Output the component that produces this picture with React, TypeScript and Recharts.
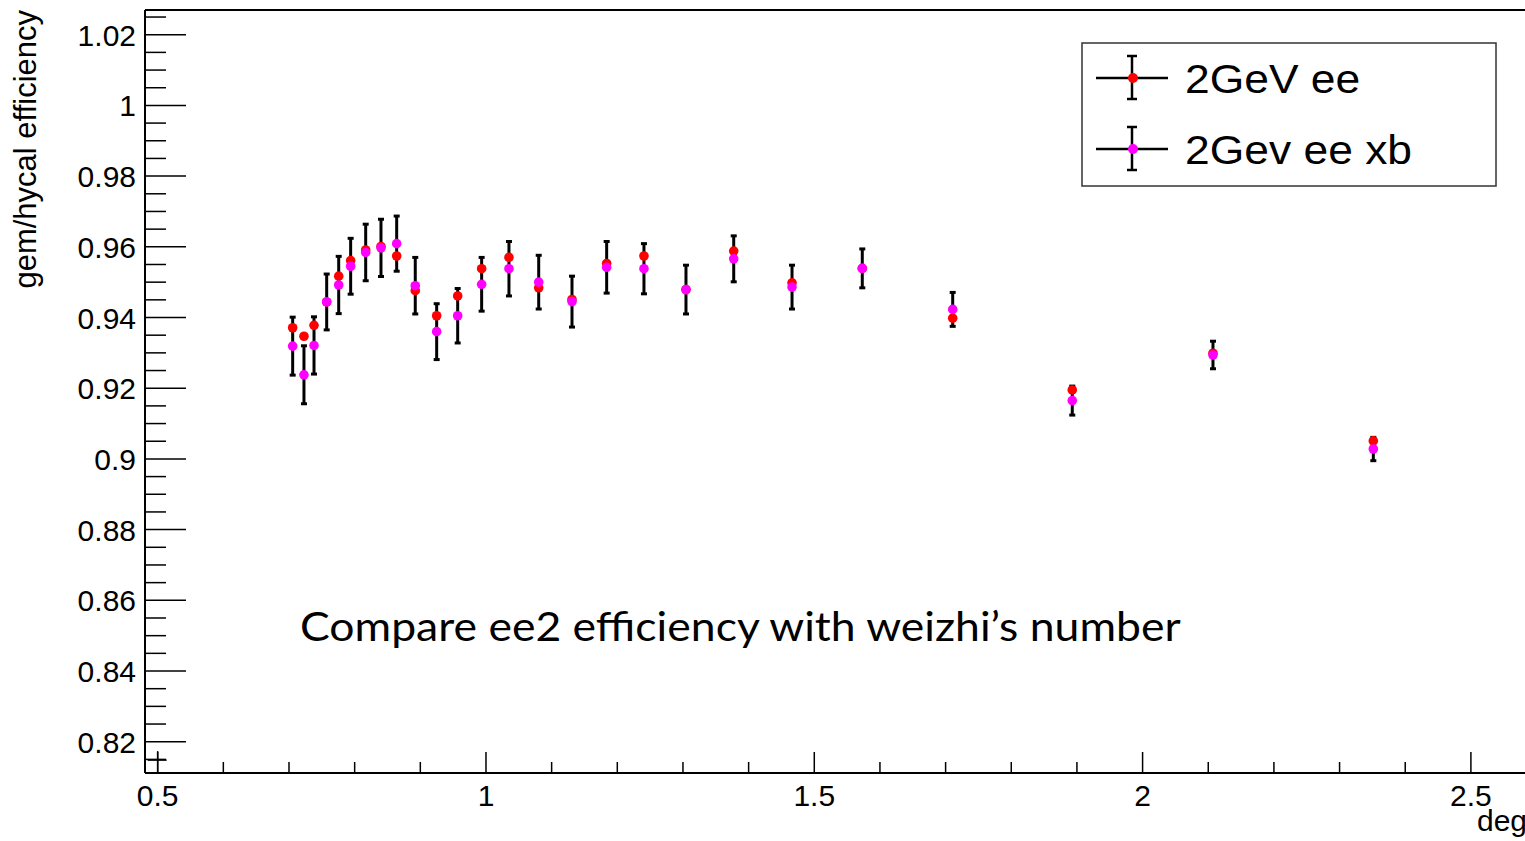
import { ScatterChart, Scatter, XAxis, YAxis, ErrorBar, ReferenceLine } from "recharts";

// opening angle (deg) of each bin
const angles = [
  0.7056, 0.7228, 0.7381, 0.7574, 0.7757, 0.7939, 0.8168, 0.8401, 0.864, 0.8923, 0.9249, 0.9569, 0.9934,
  1.035, 1.0803, 1.131, 1.1838, 1.2406, 1.3046, 1.3773, 1.4661, 1.5731, 1.7108, 1.8929, 2.1072, 2.3514,
];

// 2GeV ee
const eeEff = [
  0.9371, 0.9347, 0.9378, 0.9444, 0.9517, 0.9561, 0.9591, 0.9601, 0.9574, 0.9476, 0.9405, 0.9461, 0.9538,
  0.957, 0.9484, 0.9451, 0.9553, 0.9574, 0.9479, 0.9588, 0.9498, 0.9539, 0.9398, 0.9195, 0.9299, 0.9051,
];

// 2Gev ee xb (weizhi)
const xbEff = [
  0.9319, 0.9238, 0.9321, 0.9444, 0.9492, 0.9545, 0.9584, 0.9597, 0.9609, 0.949, 0.936, 0.9405, 0.9494,
  0.9538, 0.95, 0.9445, 0.9542, 0.9538, 0.9479, 0.9566, 0.9486, 0.9539, 0.9423, 0.9165, 0.9294, 0.9028,
];

const xbErr = [
  0.0082, 0.0082, 0.0081, 0.0079, 0.0081, 0.0079, 0.008, 0.0081, 0.0078, 0.008, 0.0079, 0.0077, 0.0076,
  0.0077, 0.0076, 0.0072, 0.0073, 0.0071, 0.0069, 0.0065, 0.0062, 0.0055, 0.0048, 0.0041, 0.0039, 0.0033,
];

// stray marker in the lower left corner
const strayX = [0.5];
const strayY = [0.8148];

const xMajorTicks = [0.5, 1, 1.5, 2, 2.5];
const yMajorTicks = [0.82, 0.84, 0.86, 0.88, 0.9, 0.92, 0.94, 0.96, 0.98, 1, 1.02];
const legendLabels = ["2GeV ee", "2Gev ee xb"];
const yTitle = "gem/hycal efficiency";
const xTitle = "deg";
const note = "Compare ee2 efficiency with weizhi\u2019s number";

const X_MIN = 0.4807;
const X_MAX = 2.5824;
const Y_MIN = 0.81115;
const Y_MAX = 1.02699;

const FONT = "'Liberation Sans', Arial, Helvetica, sans-serif";

// minor ticks: 0.1 on x, 0.005 on y
const xTicks: number[] = [];
for (let i = 0; i <= 20; i++) xTicks.push(+(0.5 + i * 0.1).toFixed(2));
const yTicks: number[] = [];
for (let i = 0; i <= 42; i++) yTicks.push(+(0.815 + i * 0.005).toFixed(3));

const isIn = (list: number[], v: number) => list.some((t) => Math.abs(t - v) < 1e-6);
const fmt = (v: number) => String(Number(v.toFixed(2)));

const eeData = angles.map((x, i) => ({ x, y: eeEff[i] }));
const xbData = angles.map((x, i) => ({ x, y: xbEff[i], err: xbErr[i] }));
const strayData = strayX.map((x, i) => ({ x, y: strayY[i] }));

function YTick(props: any) {
  const { x, y, payload } = props;
  const major = isIn(yMajorTicks, payload.value);
  return (
    <g>
      <line x1={x} y1={y} x2={x + (major ? 41 : 21)} y2={y} stroke="#000" strokeWidth={1.5} />
      {major && (
        <text x={x - 9} y={y + 11} textAnchor="end" fontSize={30} fontFamily={FONT} fill="#000">
          {fmt(payload.value)}
        </text>
      )}
    </g>
  );
}

function XTick(props: any) {
  const { x, y, payload } = props;
  const major = isIn(xMajorTicks, payload.value);
  return (
    <g>
      <line x1={x} y1={y} x2={x} y2={y - (major ? 21 : 11)} stroke="#000" strokeWidth={1.5} />
      {major && (
        <text x={x} y={y + 33} textAnchor="middle" fontSize={30} fontFamily={FONT} fill="#000">
          {fmt(payload.value)}
        </text>
      )}
    </g>
  );
}

const dot = (color: string) => (p: any) => <circle cx={p.cx} cy={p.cy} r={4.8} fill={color} />;

const plus = (p: any) => (
  <g stroke="#000" strokeWidth={1.5}>
    <line x1={p.cx - 10} y1={p.cy} x2={p.cx + 9} y2={p.cy} />
    <line x1={p.cx} y1={p.cy - 9} x2={p.cx} y2={p.cy + 12} />
  </g>
);

function LegendEntry({ y, color, label }: { y: number; color: string; label: string }) {
  return (
    <g>
      <line x1={1096} y1={y} x2={1168} y2={y} stroke="#000" strokeWidth={2.5} />
      <line x1={1132} y1={y - 22} x2={1132} y2={y + 21} stroke="#000" strokeWidth={2.5} />
      <line x1={1127} y1={y - 22} x2={1137} y2={y - 22} stroke="#000" strokeWidth={2.5} />
      <line x1={1127} y1={y + 21} x2={1137} y2={y + 21} stroke="#000" strokeWidth={2.5} />
      <circle cx={1133} cy={y} r={5} fill={color} />
      <text
        transform={`translate(1185,${y + 15}) scale(1.11,1)`}
        fontSize={40}
        fontFamily={FONT}
        fill="#000"
      >
        {label}
      </text>
    </g>
  );
}

export default function App() {
  return (
    <div style={{ position: "absolute", left: 0, top: 0, width: 1525, height: 841, background: "#fff" }}>
      <ScatterChart width={1525} height={841} margin={{ top: 10, right: 0, bottom: 0, left: 0 }}>
        <XAxis
          type="number"
          dataKey="x"
          domain={[X_MIN, X_MAX]}
          allowDataOverflow
          ticks={xTicks}
          interval={0}
          height={68}
          tickSize={0}
          tickMargin={0}
          tickLine={false}
          tick={<XTick />}
          axisLine={{ stroke: "#000", strokeWidth: 2 }}
        />
        <YAxis
          type="number"
          dataKey="y"
          domain={[Y_MIN, Y_MAX]}
          allowDataOverflow
          ticks={yTicks}
          interval={0}
          width={145}
          tickSize={0}
          tickMargin={0}
          tickLine={false}
          tick={<YTick />}
          axisLine={{ stroke: "#000", strokeWidth: 2 }}
        />
        <ReferenceLine y={Y_MAX} stroke="#000" strokeWidth={2} />
        <Scatter data={strayData} shape={plus} isAnimationActive={false} />
        <Scatter data={eeData} shape={dot("#ff0000")} isAnimationActive={false} />
        <Scatter data={xbData} shape={dot("#ff00ff")} isAnimationActive={false}>
          <ErrorBar dataKey="err" direction="y" width={3} stroke="#000" strokeWidth={3} />
        </Scatter>
      </ScatterChart>
      <svg
        width={1525}
        height={841}
        style={{ position: "absolute", left: 0, top: 0, pointerEvents: "none" }}
      >
        <text
          transform="translate(36,10) rotate(-90)"
          textAnchor="end"
          fontSize={31}
          fontFamily={FONT}
          fill="#000"
        >
          {yTitle}
        </text>
        <text x={1477} y={831} fontSize={30} fontFamily={FONT} fill="#000">
          {xTitle}
        </text>
        <rect x={1082} y={43} width={414} height={143} fill="#fff" stroke="#333" strokeWidth={1.5} />
        <LegendEntry y={78} color="#ff0000" label={legendLabels[0]} />
        <LegendEntry y={149} color="#ff00ff" label={legendLabels[1]} />
        <text
          transform="translate(300,641) scale(1.086,1)"
          fontSize={41}
          fontFamily="Lato, 'Open Sans', sans-serif"
          fill="#000"
        >
          {note}
        </text>
      </svg>
    </div>
  );
}
